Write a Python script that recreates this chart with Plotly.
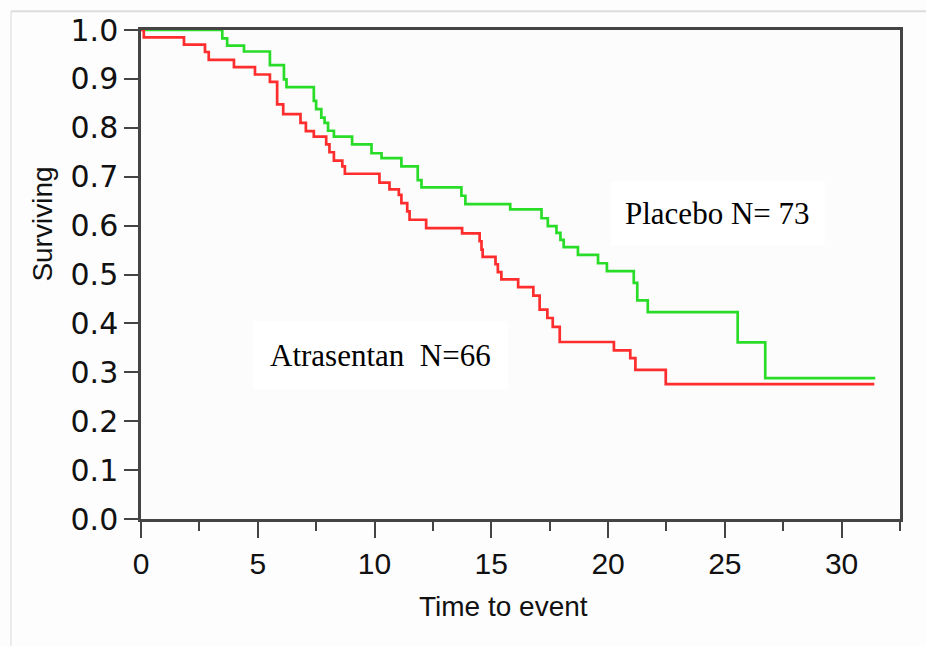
import plotly.graph_objects as go

# Atrasentan (red) Kaplan-Meier step points: time, surviving fraction
atr_time = [0, 0.12, 1.84, 2.74, 2.90, 3.98, 4.88, 5.52, 5.83, 6.09, 6.83, 7.06, 7.40,
            7.93, 8.07, 8.26, 8.62, 8.73, 10.21, 10.64, 11.04, 11.15, 11.40, 11.50,
            12.21, 13.75, 14.50, 14.58, 14.63, 15.18, 15.28, 15.43, 16.15, 16.80,
            17.07, 17.40, 17.63, 17.93, 20.25, 20.95, 21.17, 22.47, 31.40]
atr_surv = [1.0, 0.985, 0.970, 0.955, 0.939, 0.924, 0.909, 0.894, 0.848, 0.828, 0.810, 0.793, 0.782,
            0.766, 0.750, 0.733, 0.721, 0.706, 0.688, 0.674, 0.663, 0.646, 0.629, 0.612,
            0.595, 0.584, 0.568, 0.551, 0.536, 0.521, 0.505, 0.490, 0.474, 0.457,
            0.428, 0.411, 0.393, 0.362, 0.345, 0.329, 0.305, 0.276, 0.276]

# Placebo (green)
pla_time = [0, 3.48, 3.69, 4.41, 5.52, 6.12, 6.23, 7.40, 7.50, 7.72, 7.86, 8.01, 8.26,
            9.04, 9.87, 10.30, 11.15, 11.85, 12.01, 13.72, 13.89, 15.81, 17.15, 17.42,
            17.79, 17.96, 18.10, 18.71, 19.57, 19.95, 21.10, 21.25, 21.70, 25.55, 26.73, 31.44]
pla_surv = [1.0, 0.983, 0.968, 0.956, 0.928, 0.899, 0.883, 0.855, 0.838, 0.821, 0.810, 0.794, 0.782,
            0.766, 0.748, 0.738, 0.721, 0.693, 0.678, 0.661, 0.644, 0.633, 0.615, 0.599,
            0.585, 0.571, 0.556, 0.540, 0.523, 0.507, 0.483, 0.447, 0.423, 0.361, 0.288, 0.288]

labels = ["Placebo N= 73", "Atrasentan  N=66"]
x_title = "Time to event"
y_title = "Surviving"

fig = go.Figure()
fig.add_trace(go.Scatter(x=pla_time, y=pla_surv, mode="lines", line_shape="hv",
                         line=dict(color="rgb(40,220,40)", width=2.7), showlegend=False))
fig.add_trace(go.Scatter(x=atr_time, y=atr_surv, mode="lines", line_shape="hv",
                         line=dict(color="rgb(255,45,45)", width=2.7), showlegend=False))

axis_common = dict(showline=True, linecolor="#444", linewidth=2.5, mirror=True,
                   showgrid=False, zeroline=False, ticks="outside", tickwidth=2,
                   tickcolor="#444")

fig.update_xaxes(range=[0, 32.5], tick0=0, dtick=5, ticklen=16,
                 tickfont=dict(family="Liberation Sans, Arial", size=30, color="#111"),
                 minor=dict(dtick=2.5, ticklen=9, tickwidth=2, tickcolor="#444", ticks="outside"),
                 **axis_common)
fig.update_yaxes(range=[0, 1], tick0=0, dtick=0.1, tickformat=".1f", ticklen=14,
                 tickfont=dict(family="DejaVu Sans, Liberation Sans", size=30, color="#111"),
                 **axis_common)

# Axis titles as annotations (offset from centre as in the reference)
fig.add_annotation(text=y_title, xref="paper", yref="paper", x=(43 - 141) / 759,
                   y=(519 - 220) / 495, xanchor="center", yanchor="middle",
                   textangle=-90, showarrow=False,
                   font=dict(family="Liberation Sans, Arial", size=28, color="#111"))
fig.add_annotation(text=x_title, xref="paper", yref="paper", x=(503 - 141) / 759,
                   y=(519 - 608) / 495, xanchor="center", yanchor="middle", showarrow=False,
                   font=dict(family="Liberation Sans, Arial", size=28, color="#111"))

# Group labels
fig.add_annotation(text=labels[0], x=20.1, y=0.625, xanchor="left", yanchor="middle",
                   showarrow=False,
                   font=dict(family="Liberation Serif, Times New Roman", size=31, color="#000"),
                   bgcolor="white", borderpad=14)
fig.add_annotation(text=labels[1], x=4.8, y=0.334, xanchor="left", yanchor="middle",
                   showarrow=False,
                   font=dict(family="Liberation Serif, Times New Roman", size=31, color="#000"),
                   bgcolor="white", borderpad=16)

# light outer frame of the screenshot
fig.add_shape(type="line", xref="paper", yref="paper", x0=(11 - 141) / 759, x1=1.05,
              y0=(519 - 5) / 495, y1=(519 - 5) / 495, line=dict(color="#dcdcdc", width=2))
fig.add_shape(type="line", xref="paper", yref="paper", x0=(11 - 141) / 759, x1=(11 - 141) / 759,
              y0=(519 - 5) / 495, y1=-0.3, line=dict(color="#e4e4e4", width=1.5))

fig.update_layout(width=926, height=646, margin=dict(l=141, r=26, t=24, b=127),
                  paper_bgcolor="#fdfdfd", plot_bgcolor="#fcfcfc")

fig.write_html("out.html")
